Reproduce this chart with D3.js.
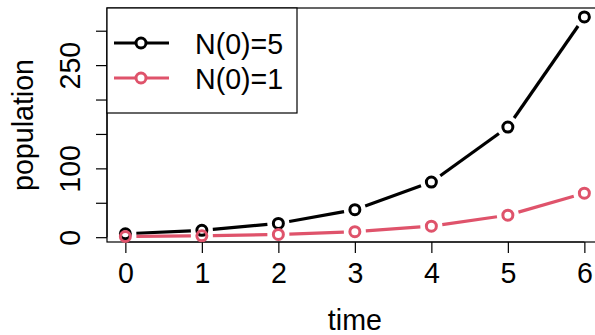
<!DOCTYPE html>
<html><head><meta charset="utf-8">
<script src="https://cdn.jsdelivr.net/npm/d3@7"></script>
<style>
html,body{margin:0;padding:0;background:#fff;}
svg{display:block;font-family:"Liberation Sans",Arial,Helvetica,sans-serif;}
</style></head>
<body>
<script>
const times = [0,1,2,3,4,5,6];
const seriesNames = ["N(0)=5","N(0)=1"];
const seriesA = [5,10,20,40,80,160,320];
const seriesB = [1,2,4,8,16,32,64];
const seriesColors = ["#000000","#DF536B"];
const xTicks = [0,1,2,3,4,5,6];
const yTicks = [0,50,100,150,200,250,300];
const yTickLabels = ["0","","100","","","250",""];

const W=595,H=335, fs=28.6;
const svg=d3.select("body").append("svg").attr("width",W).attr("height",H);
const L=107, T=8, B=242;
const x=d3.scaleLinear().domain([-0.24,6.24]).range([L, L+6.48*76.5]);
const y=d3.scaleLinear().domain([-7,333]).range([B,T]);
const R=x.range()[1];

// box
svg.append("rect").attr("x",L).attr("y",T).attr("width",R-L).attr("height",B-T)
  .attr("fill","none").attr("stroke","#000").attr("stroke-width",1.2);

// axes
const ya=svg.append("g").attr("transform",`translate(${L},0)`)
  .call(d3.axisLeft(y).tickValues(yTicks).tickSize(11).tickFormat((d,i)=>yTickLabels[i]));
ya.select(".domain").attr("d",`M0,${y(0)}V${y(300)}`);
ya.selectAll("text").attr("transform","rotate(-90)").attr("x",0).attr("y",-27).attr("dy",0)
  .attr("text-anchor","middle").style("font-size",fs+"px").attr("fill","#000").style("font-family","Liberation Sans, Arial, sans-serif");
const xa=svg.append("g").attr("transform",`translate(0,${B})`)
  .call(d3.axisBottom(x).tickValues(xTicks).tickSize(11).tickFormat(d3.format("d")));
xa.select(".domain").attr("d",`M${x(0)},0H${x(6)}`);
xa.selectAll("text").attr("y",41).attr("dy",0).style("font-size",fs+"px").attr("fill","#000").style("font-family","Liberation Sans, Arial, sans-serif");
svg.selectAll(".tick line, .domain").attr("stroke","#000").attr("stroke-width",1.2);

// axis titles
svg.append("text").attr("x",(L+R)/2).attr("y",330).attr("text-anchor","middle")
  .style("font-size",fs+"px").text("time");
svg.append("text").attr("transform",`translate(33,${(T+B)/2}) rotate(-90)`).attr("text-anchor","middle")
  .style("font-size",fs+"px").text("population");

// series
const gap=11, rr=5;
[seriesA,seriesB].forEach((vals,si)=>{
  const col=seriesColors[si];
  const pts=vals.map((v,i)=>[x(times[i]),y(v)]);
  const g=svg.append("g");
  for(let i=0;i<pts.length-1;i++){
    const [x0,y0]=pts[i],[x1,y1]=pts[i+1];
    const dx=x1-x0,dy=y1-y0,len=Math.hypot(dx,dy);
    if(len<=2*gap) continue;
    const ux=dx/len,uy=dy/len;
    g.append("line").attr("x1",x0+ux*gap).attr("y1",y0+uy*gap)
      .attr("x2",x1-ux*gap).attr("y2",y1-uy*gap)
      .attr("stroke",col).attr("stroke-width",3.2);
  }
  g.selectAll("circle").data(pts).join("circle").attr("cx",d=>d[0]).attr("cy",d=>d[1])
    .attr("r",rr).attr("fill","none").attr("stroke",col).attr("stroke-width",3);
});

// legend
const lg=svg.append("g");
lg.append("rect").attr("x",L).attr("y",T).attr("width",297-L).attr("height",113-T)
  .attr("fill","#fff").attr("stroke","#000").attr("stroke-width",1.2);
seriesNames.forEach((nm,i)=>{
  const cy=43+i*35, col=seriesColors[i];
  lg.append("line").attr("x1",114).attr("x2",169).attr("y1",cy).attr("y2",cy)
    .attr("stroke",col).attr("stroke-width",3.2);
  lg.append("circle").attr("cx",141).attr("cy",cy).attr("r",rr)
    .attr("fill","#fff").attr("stroke",col).attr("stroke-width",3);
  lg.append("text").attr("x",195).attr("y",cy+11).style("font-size",fs+"px").text(nm);
});
</script>
</body></html>
